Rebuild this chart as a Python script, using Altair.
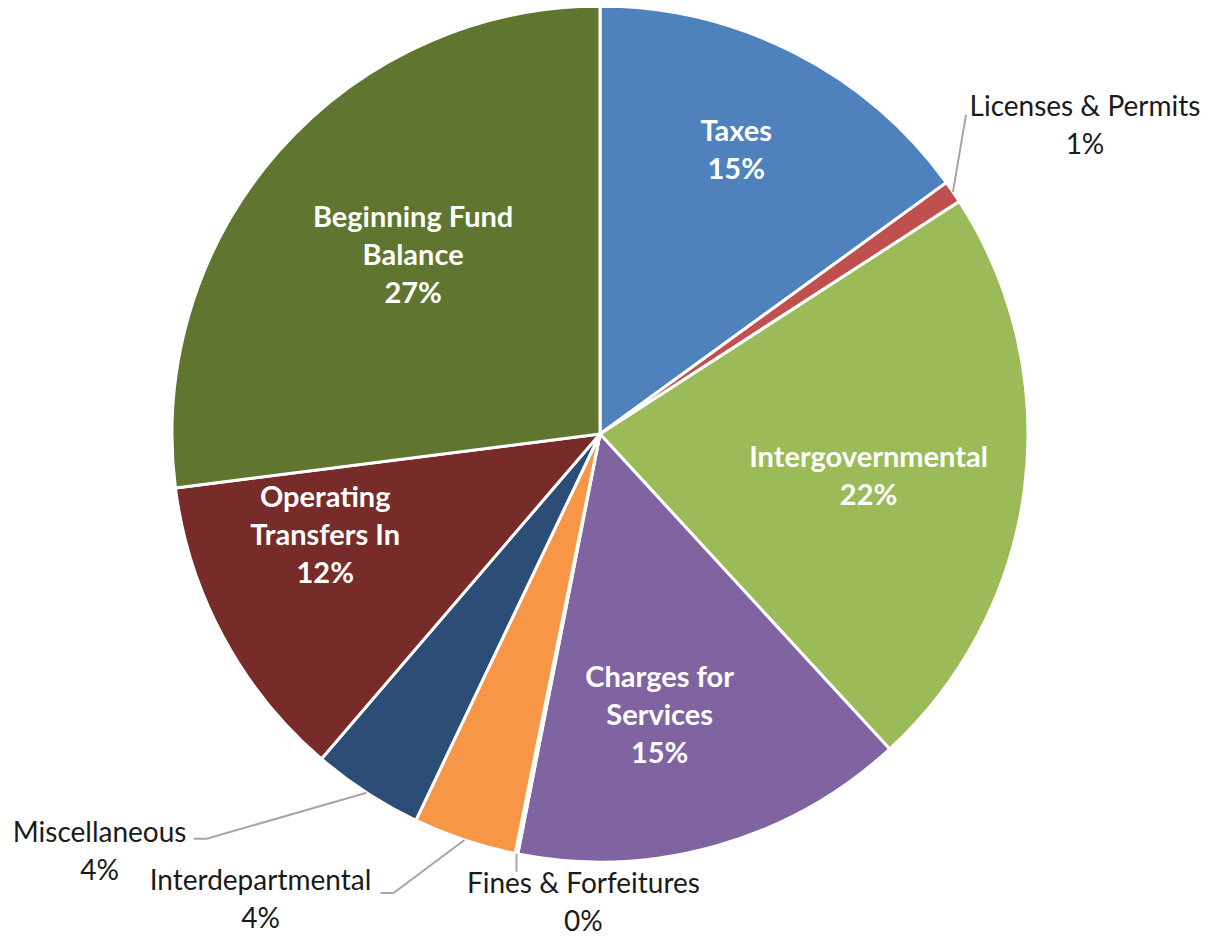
import math
import altair as alt
import pandas as pd

# ---------------- data ----------------
categories = ["Taxes", "Licenses & Permits", "Intergovernmental", "Charges for Services",
              "Fines & Forfeitures", "Interdepartmental", "Miscellaneous",
              "Operating Transfers In", "Beginning Fund Balance"]
shares = [15.0, 0.85, 22.3, 14.9, 0.1, 3.9, 4.2, 11.7, 27.0]
label_text = ["Taxes", "Licenses & Permits", "Intergovernmental", "Charges for\nServices",
              "Fines & Forfeitures", "Interdepartmental", "Miscellaneous",
              "Operating\nTransfers In", "Beginning Fund\nBalance"]
colors = ["#4F81BD", "#C0504D", "#9BBB59", "#8064A2", "#4BACC6",
          "#F79646", "#2C4D75", "#772C2A", "#5F7530"]

# ---------------- layout (styling / annotation placement) ----------------
W, H = 1184, 852          # view; pie centred in it
R = 428                   # pie radius (px)
FONT = "Lato"
LH_IN, LH_OUT = 38, 38.5  # line heights
INNER = {                 # category: (angle nudge in deg, label radius px)
    "Taxes": (-1.3, 314),
    "Intergovernmental": (1.85, 272),
    "Charges for Services": (3.8, 288),
    "Operating Transfers In": (8.0, 293),
    "Beginning Fund Balance": (2.2, 258),
}
OUTER = {                 # category: (elbow dx, elbow dy, tail dx, text dx, text dy) screen px
    "Licenses & Permits": (13, -77, 0, 119, 12),
    "Fines & Forfeitures": (0, 18, 0, 67, 32),
    "Interdepartmental": (-71, 53, -13, -120, 8),
    "Miscellaneous": (-160, 46, -13, -94, 14),
}

# ---------------- derived tables ----------------
total = sum(shares)
df = pd.DataFrame({"category": categories, "share": shares, "idx": range(len(categories))})

rows_inner, rows_outer, rows_lines = [], [], []
cum = 0.0
for cat, v, txt in zip(categories, shares, label_text):
    mid = (cum + v / 2) / total * 360.0
    cum += v
    pct = f"{round(v / total * 100)}%"
    label = txt + "\n" + pct
    n = label.count("\n")
    if cat in INNER:
        nudge, r = INNER[cat]
        a = math.radians(mid + nudge)
        rows_inner.append({"x": r * math.sin(a),
                           "y": r * math.cos(a) + n * LH_IN / 2, "label": label})
    elif cat in OUTER:
        ex, ey, tx, lx, ly = OUTER[cat]
        a = math.radians(mid)
        sx, sy = R * math.sin(a), -R * math.cos(a)   # screen coords (y down)
        pts = [(sx, sy), (sx + ex, sy + ey), (sx + ex + tx, sy + ey)]
        for k, (px, py) in enumerate(pts):
            rows_lines.append({"cat": cat, "k": k, "x": px, "y": -py})
        ex_, ey_ = pts[-1]
        rows_outer.append({"x": ex_ + lx, "y": -(ey_ + ly) + n * LH_OUT / 2, "label": label})

inner_df = pd.DataFrame(rows_inner)
outer_df = pd.DataFrame(rows_outer)
lines_df = pd.DataFrame(rows_lines)

xs = alt.Scale(domain=[-W / 2, W / 2])
ys = alt.Scale(domain=[-H / 2, H / 2])

pie = alt.Chart(df).mark_arc(outerRadius=R, stroke="white", strokeWidth=3).encode(
    theta=alt.Theta("share:Q", stack=True),
    order=alt.Order("idx:Q"),
    color=alt.Color("category:N", scale=alt.Scale(domain=categories, range=colors), legend=None),
)

leaders = alt.Chart(lines_df).mark_line(color="#A6A6A6", strokeWidth=2).encode(
    x=alt.X("x:Q", scale=xs, axis=None),
    y=alt.Y("y:Q", scale=ys, axis=None),
    detail="cat:N",
    order="k:Q",
)

inner_txt = alt.Chart(inner_df).mark_text(
    font=FONT, fontSize=29, fontWeight="bold", color="white",
    lineBreak="\n", lineHeight=LH_IN, align="center", baseline="middle",
).encode(
    x=alt.X("x:Q", scale=xs, axis=None),
    y=alt.Y("y:Q", scale=ys, axis=None),
    text="label:N",
)

outer_txt = alt.Chart(outer_df).mark_text(
    font=FONT, fontSize=28, color="#1a1a1a",
    lineBreak="\n", lineHeight=LH_OUT, align="center", baseline="middle",
).encode(
    x=alt.X("x:Q", scale=xs, axis=None),
    y=alt.Y("y:Q", scale=ys, axis=None),
    text="label:N",
)

chart = alt.layer(pie, leaders, inner_txt, outer_txt).properties(
    width=W, height=H,
    autosize=alt.AutoSizeParams(type="none"),
    padding={"left": 0, "top": 0, "right": 11, "bottom": 77},
).configure_view(stroke=None)

chart.save("out.html", embed_options={"renderer": "svg", "actions": False})
